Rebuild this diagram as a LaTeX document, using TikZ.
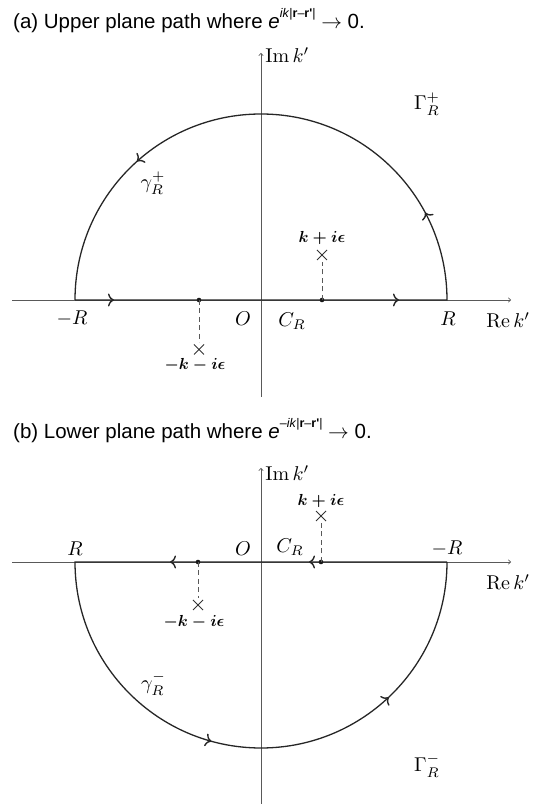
\documentclass[tikz,border=0pt]{standalone}
\usepackage{fontspec}
\newfontfamily\capfont{Liberation Sans}
\usetikzlibrary{decorations.markings,arrows.meta,calc}
\begin{document}
\begin{tikzpicture}[x=1pt,y=1pt,
  axisline/.style={line width=0.6pt, draw=black!65, -{To[length=3pt,width=5pt]}},
  contour/.style={line width=1.3pt, draw=black!85},
  lab/.style={inner sep=0pt, scale=2},
  poleLab/.style={inner sep=0pt, scale=1.6, font=\boldmath},
  caption/.style={anchor=base west, inner sep=0pt, font=\capfont\fontsize{20.5}{24}\selectfont},
  dashline/.style={line width=0.6pt, draw=black!65, dash pattern=on 5pt off 3.5pt},
  dotmark/.style={fill=black!90, draw=none},
  xmark/.pic={\draw[line width=0.8pt, black!80] (-5,-5)--(5,5) (-5,5)--(5,-5);}
]
\def\ctip{\arrow{Computer Modern Rightarrow[length=6pt,width=13pt,line width=1.4pt]}}
\useasboundingbox (0,0) rectangle (533,804);

% ================= (a) =================
\node[caption] (capa) at (13,775) {(a) Upper plane path where \textit{e}\raisebox{0.55em}{\fontsize{12.5}{12}\selectfont\textit{ik}|\textbf{r}–\textbf{r'}|} $\rightarrow$ 0.};

\coordinate (Oa) at (261,504);
\coordinate (axL) at (12,504);
\coordinate (axR) at (511,504);
\coordinate (ayB) at (261,407);
\coordinate (ayT) at (261,751);
\draw[axisline] (axL) -- (axR);
\draw[axisline] (ayB) -- (ayT);

\coordinate (mRa) at (75,504);
\coordinate (pRa) at (447,504);
\draw[contour, postaction={decorate}, decoration={markings,
   mark=at position 39pt with {\ctip},
   mark=at position 324pt with {\ctip},
   mark=at position 463pt with {\ctip},
   mark=at position 800pt with {\ctip}}]
  (mRa) -- (pRa) arc[start angle=0, end angle=180, radius=186];

\node[lab] (lmRa) at (72,485) {$-R$};
\node[lab] (lOa) at (243,485) {$O$};
\node[lab] (lCa) at (292,482.5) {$C_R$};
\node[lab] (lpRa) at (448,485) {$R$};
\node[lab, anchor=west] (lRea) at (486,484) {$\mathrm{Re}\,k'$};
\node[lab, anchor=west] (lIma) at (265,749) {$\mathrm{Im}\,k'$};
\node[lab] (lGa) at (427,700) {$\Gamma_R^+$};
\node[lab] (lga) at (153,621) {$\gamma_R^+$};

% poles (a)
\coordinate (pda) at (322,504);
\coordinate (pca) at (322,549);
\fill[dotmark] (pda) circle (2.3);
\draw[dashline] (pda) -- ($(pca)+(0,-7)$);
\pic at (pca) {xmark};
\node[poleLab] (lpa) at (322,565.5) {$k+i\epsilon$};

\coordinate (nda) at (199,504);
\coordinate (nca) at (199,454.5);
\fill[dotmark] (nda) circle (2.3);
\draw[dashline] (nda) -- ($(nca)+(0,7)$);
\pic at (nca) {xmark};
\node[poleLab] (lna) at (195,439) {$-k-i\epsilon$};

% ================= (b) =================
\node[caption] (capb) at (13,365) {(b) Lower plane path where \textit{e}\raisebox{0.55em}{\fontsize{12.5}{12}\selectfont–\textit{ik}|\textbf{r}–\textbf{r'}|} $\rightarrow$ 0.};

\coordinate (Ob) at (261,242);
\coordinate (bxL) at (12,242);
\coordinate (bxR) at (511,242);
\coordinate (byB) at (261,0);
\coordinate (byT) at (261,336);
\draw[axisline] (bxL) -- (bxR);
\draw[axisline] (byB) -- (byT);

\coordinate (mRb) at (447,242);
\coordinate (pRb) at (75,242);
\draw[contour, postaction={decorate}, decoration={markings,
   mark=at position 138pt with {\ctip},
   mark=at position 277pt with {\ctip},
   mark=at position 614pt with {\ctip},
   mark=at position 805pt with {\ctip}}]
  (mRb) -- (pRb) arc[start angle=180, end angle=360, radius=186];

\node[lab] (lpRb) at (75,255.5) {$R$};
\node[lab] (lOb) at (243,255.5) {$O$};
\node[lab] (lCb) at (290,257) {$C_R$};
\node[lab] (lmRb) at (447,255.5) {$-R$};
\node[lab, anchor=west] (lReb) at (486,221.5) {$\mathrm{Re}\,k'$};
\node[lab, anchor=west] (lImb) at (265,331) {$\mathrm{Im}\,k'$};
\node[lab] (lGb) at (427,38.5) {$\Gamma_R^-$};
\node[lab] (lgb) at (153.5,120.5) {$\gamma_R^-$};

% poles (b)
\coordinate (pdb) at (321,242);
\coordinate (pcb) at (321,288);
\fill[dotmark] (pdb) circle (2.3);
\draw[dashline] (pdb) -- ($(pcb)+(0,-7)$);
\pic at (pcb) {xmark};
\node[poleLab] (lpb) at (321,303) {$k+i\epsilon$};

\coordinate (ndb) at (198,242);
\coordinate (ncb) at (198,199);
\fill[dotmark] (ndb) circle (2.3);
\draw[dashline] (ndb) -- ($(ncb)+(0,7)$);
\pic at (ncb) {xmark};
\node[poleLab] (lnb) at (194,182) {$-k-i\epsilon$};
\end{tikzpicture}
\end{document}
